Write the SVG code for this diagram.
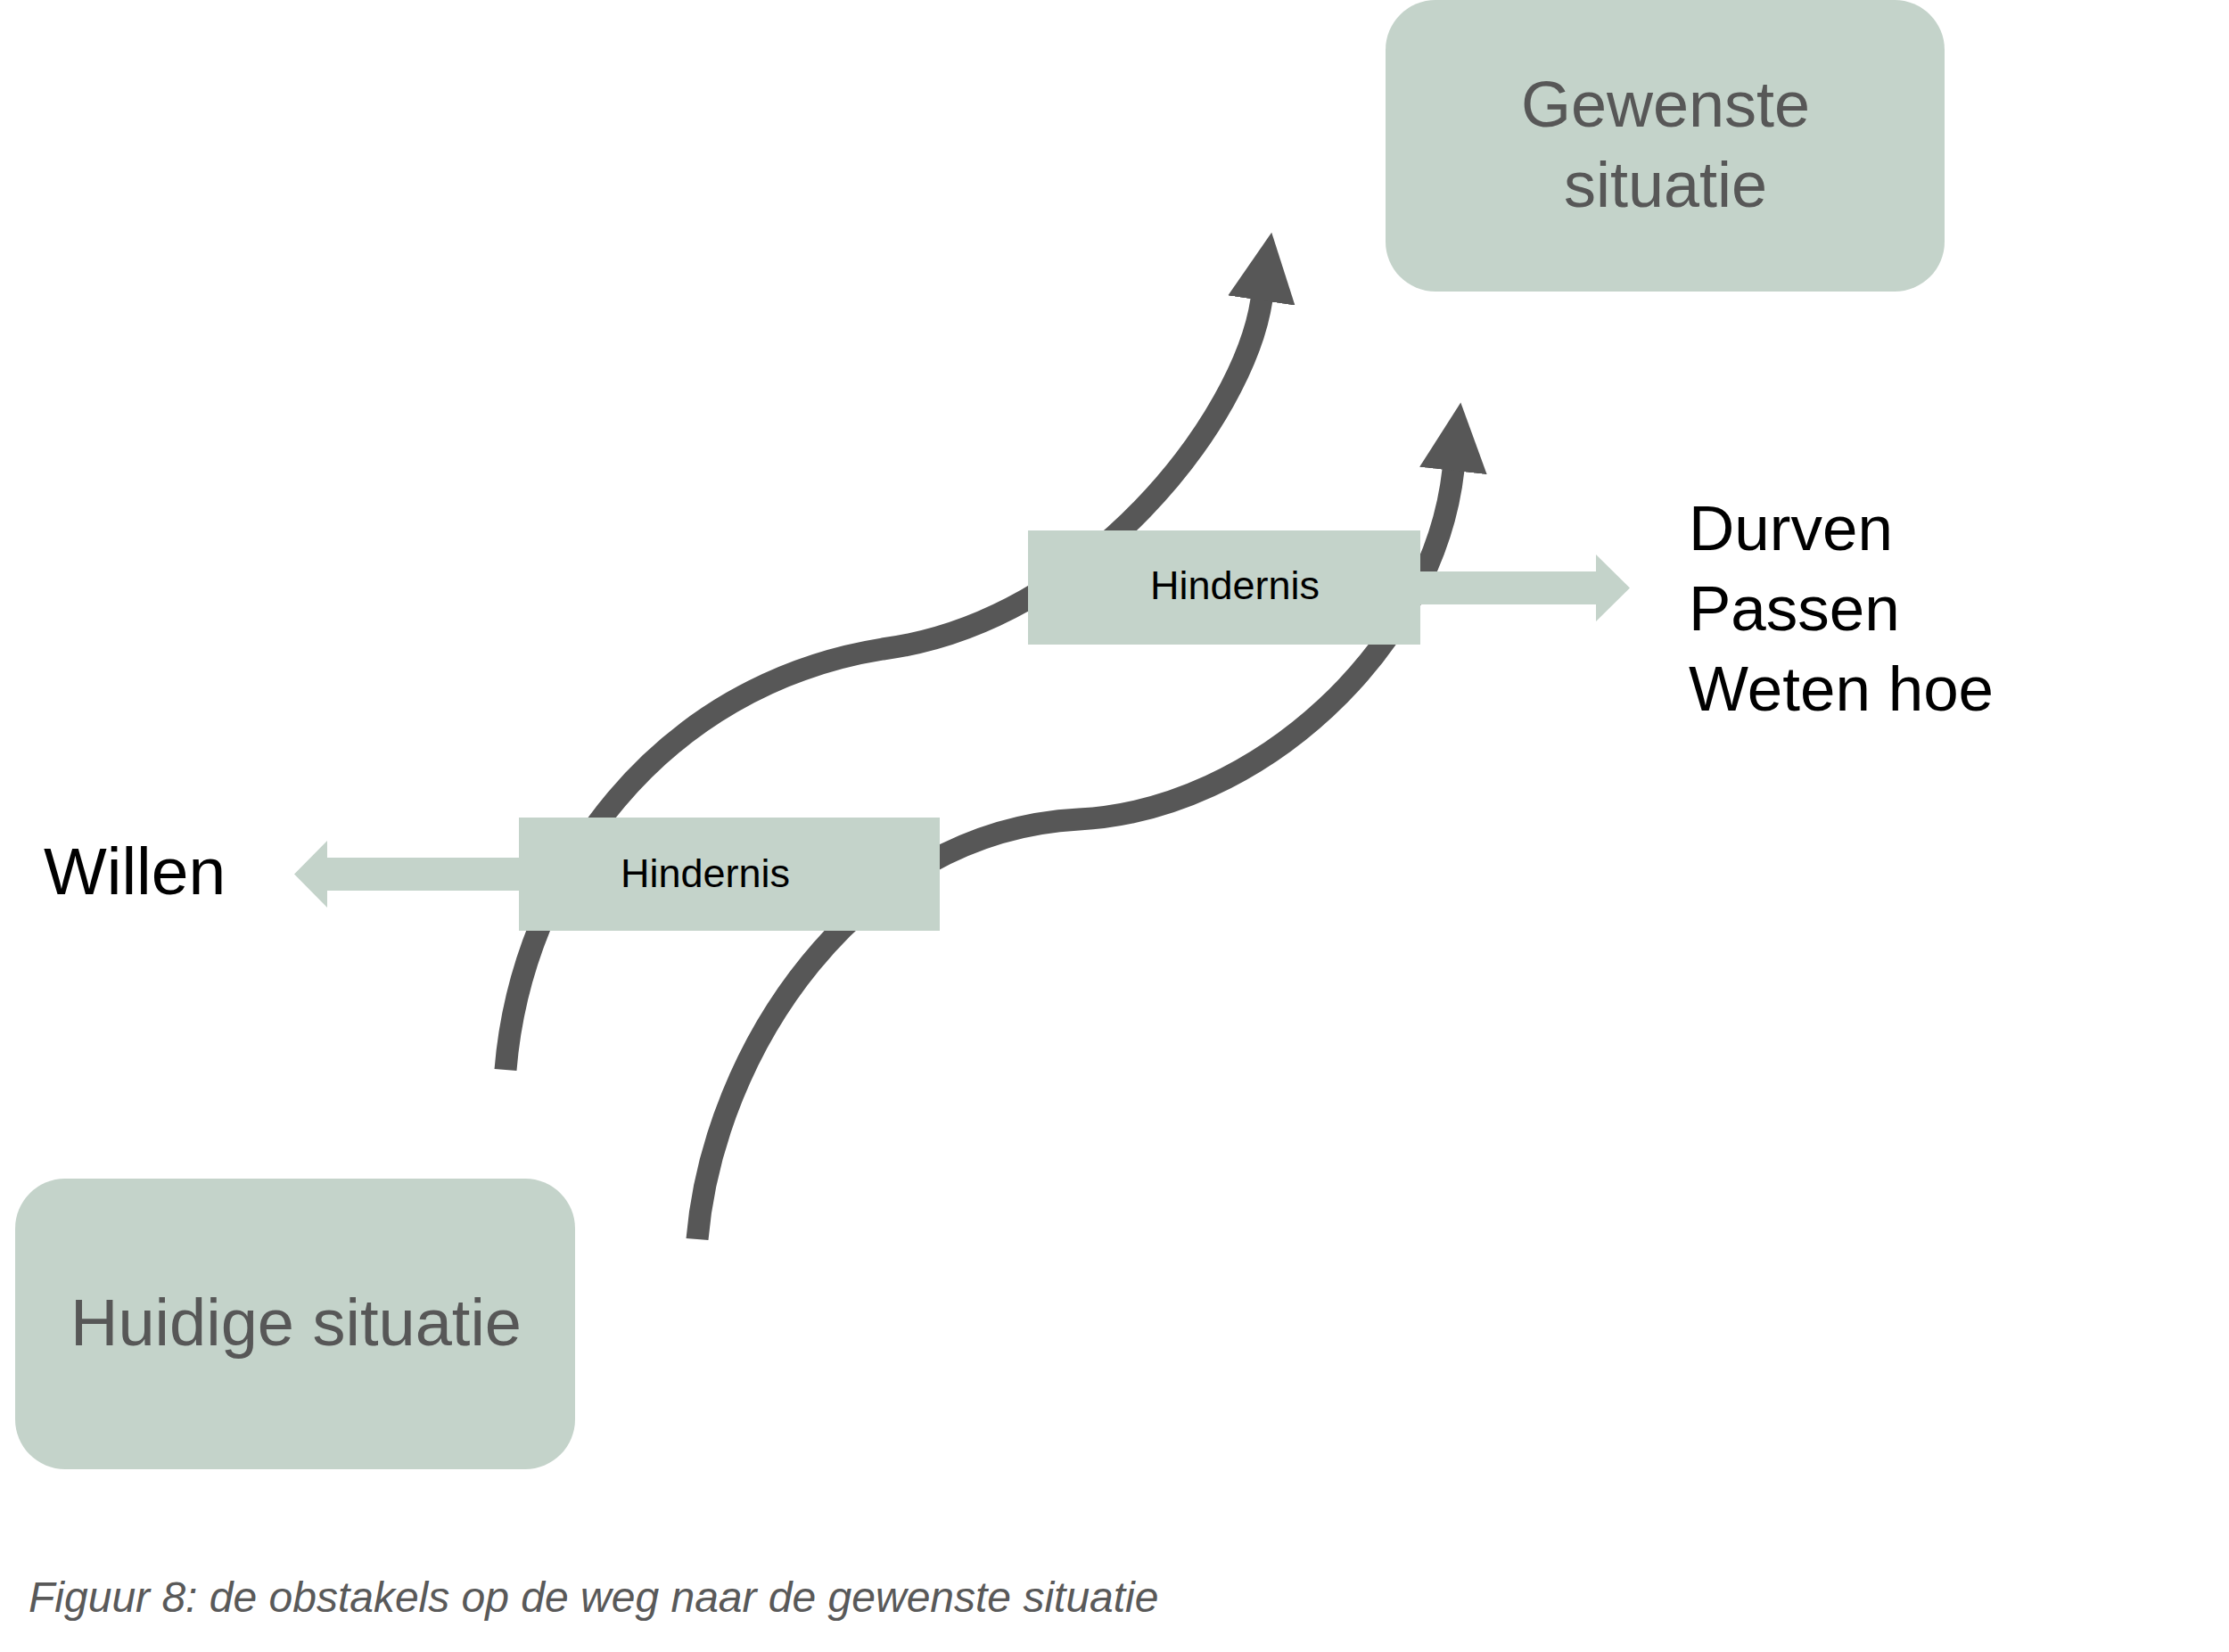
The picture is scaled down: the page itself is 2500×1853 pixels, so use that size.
<svg xmlns="http://www.w3.org/2000/svg" width="2500" height="1853" viewBox="0 0 2500 1853">
  <style>
    .box { fill: #C4D3CA; }
    .big { font-family: "Liberation Sans", Arial, sans-serif; font-size: 72px; fill: #575757; text-anchor: middle; }
    .lbl { font-family: "Liberation Sans", Arial, sans-serif; font-size: 45px; fill: #000000; text-anchor: middle; }
    .side { font-family: "Liberation Sans", Arial, sans-serif; font-size: 71px; fill: #000000; }
    .curve { fill: none; stroke: #575757; stroke-width: 25; stroke-linecap: butt; }
    .cap { font-family: "Liberation Sans", Arial, sans-serif; font-size: 48px; font-style: italic; fill: #595959; }
  </style>
  <defs>
    <marker id="ah" markerUnits="userSpaceOnUse" viewBox="0 0 77 76" markerWidth="77" markerHeight="76" refX="1" refY="38" orient="auto">
      <path d="M0,0 L77,38 L0,76 Z" fill="#575757"/>
    </marker>
  </defs>
  <rect width="2500" height="1853" fill="#FFFFFF"/>

  <g id="connectors">
    <path class="curve" d="M567,1200 C585,980 740,768 990,728 C1220,698 1395,470 1415,336" marker-end="url(#ah)"/>
    <path class="curve" d="M782,1390 C800,1180 960,932 1210,919 C1410,909 1608,727 1630,527" marker-end="url(#ah)"/>
    <polygon class="box" points="1580,641 1790,641 1790,622 1828,659.5 1790,697 1790,678 1580,678"/>
    <polygon class="box" points="595,962 367,962 367,943 330,980.5 367,1018 367,999 595,999"/>
  </g>

  <g id="gewenste">
    <rect class="box" x="1554" y="0" width="627" height="327" rx="56" ry="56"/>
    <text class="big" x="1868" y="142">Gewenste</text>
    <text class="big" x="1868" y="232">situatie</text>
  </g>

  <g id="huidige">
    <rect class="box" x="17" y="1322" width="628" height="326" rx="56" ry="56"/>
    <text class="big" x="332" y="1509" style="font-size:74px">Huidige situatie</text>
  </g>

  <g id="hindernis-boven">
    <rect class="box" x="1153" y="595" width="440" height="128"/>
    <text class="lbl" x="1385" y="672">Hindernis</text>
  </g>

  <g id="hindernis-onder">
    <rect class="box" x="582" y="917" width="472" height="127"/>
    <text class="lbl" x="791" y="995">Hindernis</text>
  </g>

  <g id="willen">
    <text class="side" x="49" y="1003" style="font-size:75px">Willen</text>
  </g>

  <g id="durven">
    <text class="side" x="1894" y="617">Durven</text>
    <text class="side" x="1894" y="707">Passen</text>
    <text class="side" x="1894" y="797">Weten hoe</text>
  </g>

  <g id="caption">
    <text class="cap" x="32" y="1808">Figuur 8: de obstakels op de weg naar de gewenste situatie</text>
  </g>
</svg>
